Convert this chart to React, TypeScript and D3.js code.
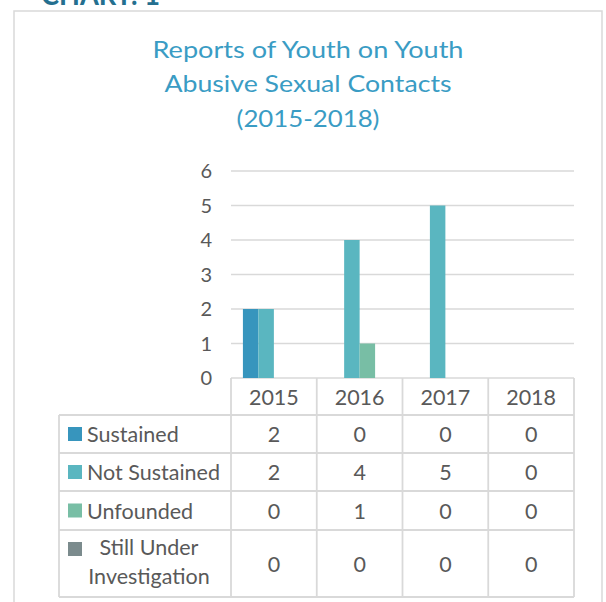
import React from 'react';
import * as d3 from 'd3';

const years = ['2015', '2016', '2017', '2018'];
const seriesNames = ['Sustained', 'Not Sustained', 'Unfounded', 'Still Under Investigation'];
const sustained = [2, 0, 0, 0];
const notSustained = [2, 4, 5, 0];
const unfounded = [0, 1, 0, 0];
const stillUnder = [0, 0, 0, 0];
const yTicks = [0, 1, 2, 3, 4, 5, 6];
const titleLines = ['Reports of Youth on Youth', 'Abusive Sexual Contacts', '(2015-2018)'];
const titleWidths = [311, 287, 143];

const seriesValues = [sustained, notSustained, unfounded, stillUnder];
const colors = ['#3795bd', '#5ab6c0', '#78bea5', '#7b8b8d'];

const W = 606;
const H = 602;
const FONT = 'Lato, "Open Sans", sans-serif';
const GRID = '#d9d9d9';
const TEXT = '#595959';

const App: React.FC = () => {
  // Plot area
  const x = d3.scaleBand<string>().domain(years).range([231, 574]).paddingInner(0).paddingOuter(0);
  const xSub = d3.scaleBand<string>().domain(seriesNames).range([0, x.bandwidth()]).paddingInner(0).paddingOuter(0.77);
  const y = d3.scaleLinear().domain([0, 6]).range([378, 171]);

  // Data table rows (header + 4 series)
  const rowEdges = [378, 415, 453, 491, 530, 597];
  const tableLeft = 59;
  const tableRight = 574;

  const bars = seriesValues.flatMap((vals, si) =>
    vals.map((v, yi) => ({ key: `${si}-${yi}`, s: seriesNames[si], year: years[yi], v, color: colors[si] }))
  );

  return (
    <svg width={W} height={H} style={{ position: 'absolute', left: 0, top: 0 }} fontFamily={FONT}>
      <rect x={0} y={0} width={W} height={H} fill="#fff" />

      {/* page heading, cut off at the top */}
      <text x={41} y={5} fontSize={28} fontWeight={700} fill="#246f8f" textLength={119} lengthAdjust="spacingAndGlyphs">CHART: 1</text>

      {/* chart frame */}
      <rect x={14} y={11} width={588} height={620} fill="none" stroke={GRID} strokeWidth={1.5} />

      {/* title */}
      {titleLines.map((t, i) => (
        <text key={t} x={308} y={57.5 + i * 34.5} textAnchor="middle" fontSize={22.5} fill="#3a9cc4"
          textLength={titleWidths[i]} lengthAdjust="spacingAndGlyphs">{t}</text>
      ))}

      {/* gridlines */}
      {yTicks.map(t => (
        <g key={t}>
          <line x1={231} x2={574} y1={y(t)} y2={y(t)} stroke={GRID} strokeWidth={1.5} />
          <text x={212} y={y(t) + 7} textAnchor="end" fontSize={20} fill={TEXT}>{t}</text>
        </g>
      ))}

      {/* bars */}
      {bars.filter(b => b.v > 0).map(b => (
        <rect
          key={b.key}
          x={(x(b.year) as number) + (xSub(b.s) as number)}
          y={y(b.v)}
          width={xSub.bandwidth()}
          height={y(0) - y(b.v)}
          fill={b.color}
        />
      ))}

      {/* data table */}
      <g stroke={GRID} strokeWidth={1.8}>
        {rowEdges.slice(1).map(r => (
          <line key={r} x1={tableLeft} x2={tableRight} y1={r} y2={r} />
        ))}
        {years.map(yr => (
          <line key={yr} x1={x(yr) as number} x2={x(yr) as number} y1={rowEdges[0]} y2={rowEdges[5]} />
        ))}
        <line x1={tableRight} x2={tableRight} y1={rowEdges[0]} y2={rowEdges[5]} />
        <line x1={tableLeft} x2={tableLeft} y1={rowEdges[1]} y2={rowEdges[5]} />
      </g>

      {years.map(yr => (
        <text key={yr} x={(x(yr) as number) + x.bandwidth() / 2} y={(rowEdges[0] + rowEdges[1]) / 2 + 8}
          textAnchor="middle" fontSize={21.5} fill={TEXT}>{yr}</text>
      ))}

      {seriesNames.map((s, si) => {
        const top = rowEdges[si + 1];
        const bottom = rowEdges[si + 2];
        const mid = (top + bottom) / 2;
        const twoLine = si === 3;
        return (
          <g key={s}>
            <rect x={68} y={twoLine ? 542 : mid - 7} width={14} height={14} fill={colors[si]} />
            {twoLine ? (
              <>
                <text x={149} y={555} textAnchor="middle" fontSize={21.5} fill={TEXT}>Still Under</text>
                <text x={149} y={584} textAnchor="middle" fontSize={21.5} fill={TEXT}>Investigation</text>
              </>
            ) : (
              <text x={87} y={mid + 8} fontSize={21.5} fill={TEXT}>{s}</text>
            )}
            {seriesValues[si].map((v, yi) => (
              <text key={yi} x={(x(years[yi]) as number) + x.bandwidth() / 2} y={mid + 8}
                textAnchor="middle" fontSize={21.5} fill={TEXT}>{v}</text>
            ))}
          </g>
        );
      })}
    </svg>
  );
};

export default App;
